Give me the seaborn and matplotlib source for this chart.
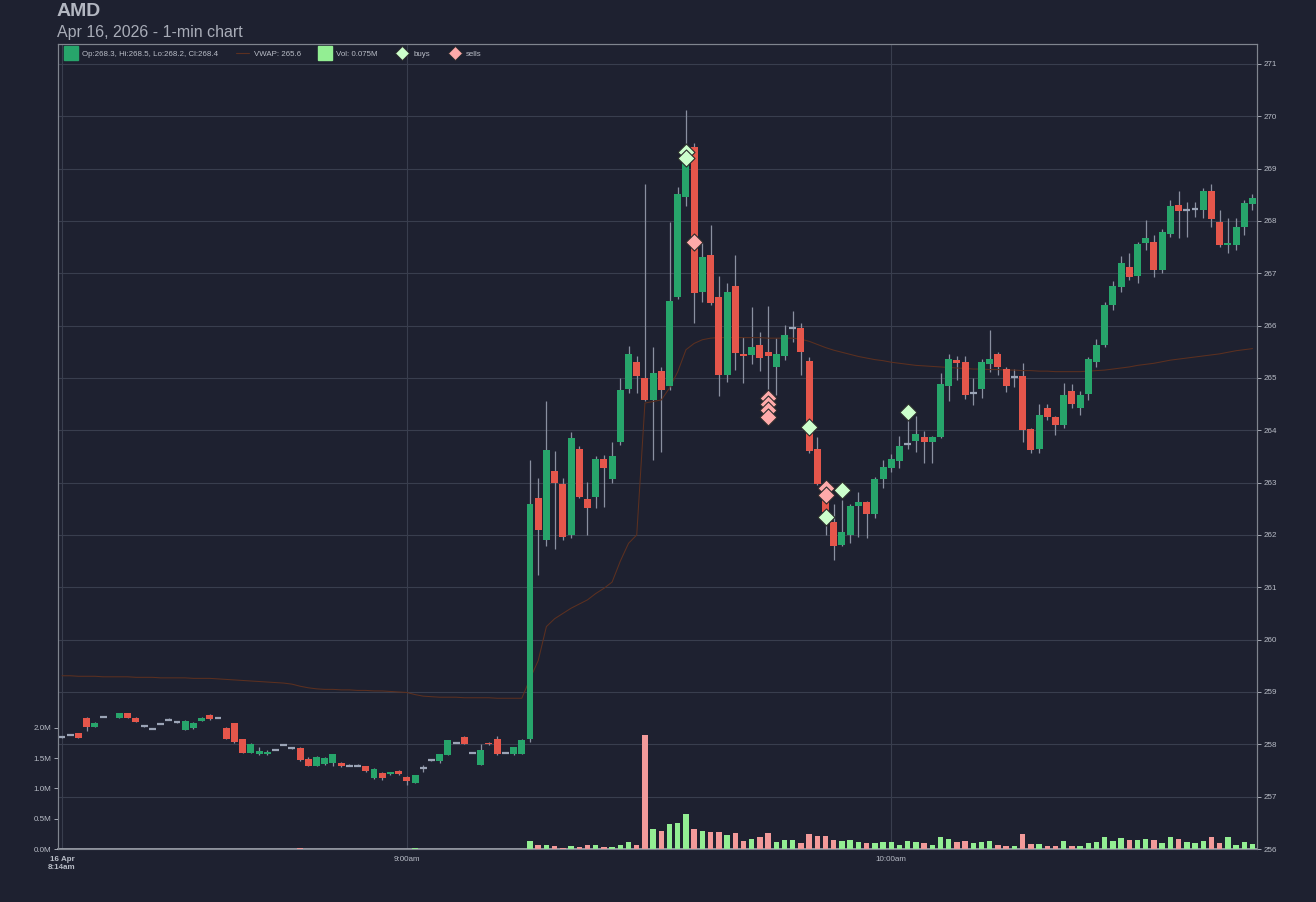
import numpy as np
import pandas as pd
import matplotlib
matplotlib.use('Agg')
import matplotlib.pyplot as plt
import seaborn as sns
from matplotlib.lines import Line2D

nan = np.nan

# 1-min bars, one slot per bar (index 0 = 8:14am, 42 = 9:00am, 101 = 10:00am)
opens = [
    258.14, 258.18, 258.21, 258.51, 258.34, 258.53, nan, 258.51, 258.59, 258.51,
    258.35, 258.30, 258.39, 258.47, 258.42, 258.28, 258.31, 258.45, 258.56, 258.51,
    258.32, 258.40, 258.10, 257.84, 257.81, 257.81, 257.90, 257.99, 257.93, 257.93,
    257.71, 257.59, 257.62, 257.65, 257.65, 257.59, 257.59, 257.58, 257.35, 257.46,
    257.43, 257.49, 257.37, 257.27, 257.54, 257.70, 257.69, 257.80, 258.03, 258.14,
    257.84, 257.61, 258.03, 258.10, 257.84, 257.81, 257.82, 258.10, 262.70, 261.90,
    263.23, 262.97, 262.00, 263.65, 262.69, 262.73, 263.46, 263.07, 263.78, 264.78,
    265.31, 264.99, 264.58, 265.14, 264.85, 266.55, 268.46, 269.42, 266.65, 267.35,
    266.54, 265.06, 266.76, 265.45, 265.44, 265.62, 265.49, 265.21, 265.42, 265.95,
    265.95, 265.33, 263.65, 262.80, 262.25, 261.81, 262.00, 262.55, 262.63, 262.40,
    263.06, 263.27, 263.42, 263.73, 263.80, 263.88, 263.78, 263.88, 264.85, 265.35,
    265.31, 264.71, 264.78, 265.27, 265.46, 265.18, 265.01, 265.04, 264.02, 263.64,
    264.42, 264.26, 264.10, 264.75, 264.42, 264.70, 265.31, 265.63, 266.39, 266.74,
    267.12, 266.95, 267.58, 267.60, 267.06, 267.75, 268.31, 268.21, 268.22, 268.21,
    268.58, 267.97, 267.54, 267.54, 267.89, 268.33]
highs = [
    258.15, 258.19, 258.22, 258.52, 258.42, 258.54, nan, 258.60, 258.60, 258.52,
    258.36, 258.31, 258.40, 258.51, 258.43, 258.46, 258.42, 258.52, 258.57, 258.52,
    258.33, 258.41, 258.11, 258.02, 257.94, 257.90, 257.91, 258.00, 257.94, 257.94,
    257.75, 257.77, 257.75, 257.82, 257.66, 257.63, 257.63, 257.59, 257.54, 257.47,
    257.48, 257.50, 257.39, 257.42, 257.60, 257.71, 257.82, 258.09, 258.04, 258.15,
    257.85, 258.00, 258.04, 258.16, 257.85, 257.95, 258.10, 263.43, 263.08, 264.56,
    263.61, 263.09, 263.96, 263.70, 263.02, 263.50, 263.53, 263.78, 264.99, 265.61,
    265.42, 268.71, 265.60, 265.20, 267.97, 268.65, 270.12, 269.49, 267.60, 267.92,
    266.94, 266.81, 267.35, 265.79, 266.36, 265.88, 266.38, 265.76, 266.01, 266.27,
    266.04, 265.40, 263.88, 262.85, 262.60, 262.67, 262.60, 262.83, 262.65, 263.10,
    263.44, 263.55, 263.89, 264.20, 264.27, 263.99, 263.90, 265.09, 265.45, 265.42,
    265.41, 264.99, 265.37, 265.92, 265.50, 265.20, 265.17, 265.28, 264.05, 264.51,
    264.50, 264.28, 264.91, 264.89, 264.75, 265.40, 265.74, 266.46, 266.85, 267.33,
    267.38, 267.60, 268.02, 267.73, 267.85, 268.39, 268.58, 268.37, 268.37, 268.62,
    268.71, 268.21, 268.05, 268.05, 268.40, 268.52]
lows = [
    258.13, 258.17, 258.12, 258.26, 258.33, 258.52, nan, 258.50, 258.50, 258.42,
    258.34, 258.29, 258.38, 258.46, 258.41, 258.27, 258.30, 258.44, 258.47, 258.50,
    258.10, 258.02, 257.83, 257.83, 257.80, 257.80, 257.89, 257.98, 257.92, 257.69,
    257.58, 257.58, 257.61, 257.59, 257.57, 257.58, 257.58, 257.48, 257.34, 257.32,
    257.42, 257.42, 257.22, 257.26, 257.47, 257.69, 257.65, 257.79, 258.02, 258.00,
    257.83, 257.60, 257.99, 257.80, 257.83, 257.80, 257.81, 258.05, 261.24, 261.78,
    261.74, 261.90, 261.95, 262.70, 262.00, 262.51, 262.54, 263.00, 263.72, 264.71,
    264.71, 264.55, 263.44, 263.59, 264.77, 266.50, 268.29, 266.04, 266.46, 266.40,
    264.66, 264.93, 265.15, 264.90, 265.27, 265.13, 264.77, 264.68, 265.34, 265.69,
    265.06, 263.56, 262.95, 262.00, 261.52, 261.78, 261.84, 261.97, 261.95, 262.32,
    262.89, 263.20, 263.27, 263.65, 263.59, 263.37, 263.38, 263.85, 264.56, 264.96,
    264.59, 264.48, 264.61, 265.12, 265.06, 264.74, 264.82, 263.78, 263.57, 263.57,
    264.20, 263.91, 264.05, 264.42, 264.29, 264.58, 265.21, 265.60, 266.30, 266.65,
    266.87, 266.81, 267.45, 266.92, 267.01, 267.70, 267.67, 267.70, 268.08, 268.05,
    267.88, 267.50, 267.38, 267.45, 267.73, 268.21]
closes = [
    258.14, 258.18, 258.13, 258.34, 258.41, 258.53, nan, 258.59, 258.51, 258.43,
    258.35, 258.30, 258.39, 258.47, 258.42, 258.45, 258.41, 258.51, 258.48, 258.51,
    258.11, 258.05, 257.84, 258.01, 257.88, 257.86, 257.90, 257.99, 257.93, 257.70,
    257.59, 257.76, 257.74, 257.81, 257.58, 257.59, 257.59, 257.49, 257.53, 257.35,
    257.47, 257.43, 257.30, 257.41, 257.54, 257.70, 257.81, 258.08, 258.03, 258.01,
    257.84, 257.89, 258.00, 257.81, 257.84, 257.94, 258.09, 262.59, 262.09, 263.62,
    263.00, 261.97, 263.86, 262.73, 262.51, 263.46, 263.27, 263.51, 264.77, 265.46,
    265.04, 264.58, 265.09, 264.77, 266.47, 268.51, 269.39, 266.63, 267.31, 266.43,
    265.06, 266.65, 265.48, 265.42, 265.60, 265.39, 265.41, 265.45, 265.82, 265.95,
    265.50, 263.61, 262.97, 262.44, 261.78, 262.05, 262.55, 262.63, 262.40, 263.06,
    263.30, 263.46, 263.70, 263.73, 263.93, 263.78, 263.88, 264.89, 265.37, 265.29,
    264.68, 264.71, 265.31, 265.37, 265.21, 264.85, 265.01, 264.00, 263.62, 264.29,
    264.25, 264.10, 264.68, 264.51, 264.68, 265.36, 265.63, 266.39, 266.76, 267.20,
    266.92, 267.55, 267.67, 267.06, 267.79, 268.29, 268.18, 268.21, 268.22, 268.58,
    268.03, 267.54, 267.58, 267.89, 268.34, 268.43]
# volume in millions
volumes = [
    0.004, 0.004, 0.004, 0.004, 0.004, 0.004, nan, 0.004, 0.004, 0.004,
    0.004, 0.004, 0.004, 0.004, 0.004, 0.004, 0.004, 0.004, 0.004, 0.004,
    0.004, 0.004, 0.004, 0.004, 0.004, 0.004, 0.004, 0.004, 0.004, 0.020,
    0.004, 0.004, 0.004, 0.004, 0.004, 0.004, 0.004, 0.004, 0.004, 0.004,
    0.004, 0.004, 0.004, 0.020, 0.004, 0.004, 0.004, 0.004, 0.004, 0.004,
    0.004, 0.004, 0.004, 0.004, 0.004, 0.004, 0.004, 0.132, 0.066, 0.066,
    0.044, 0.016, 0.050, 0.033, 0.060, 0.060, 0.033, 0.033, 0.072, 0.121,
    0.072, 1.884, 0.336, 0.292, 0.413, 0.435, 0.573, 0.336, 0.298, 0.275,
    0.275, 0.231, 0.264, 0.132, 0.165, 0.204, 0.264, 0.121, 0.154, 0.143,
    0.094, 0.242, 0.215, 0.215, 0.143, 0.132, 0.143, 0.121, 0.094, 0.094,
    0.115, 0.108, 0.066, 0.137, 0.115, 0.093, 0.066, 0.204, 0.165, 0.121,
    0.132, 0.093, 0.110, 0.132, 0.066, 0.055, 0.055, 0.242, 0.088, 0.088,
    0.055, 0.055, 0.137, 0.055, 0.055, 0.093, 0.121, 0.193, 0.132, 0.176,
    0.148, 0.148, 0.165, 0.148, 0.093, 0.204, 0.165, 0.115, 0.093, 0.137,
    0.193, 0.093, 0.193, 0.066, 0.121, 0.075]
vwap = [
    259.31, 259.31, 259.30, 259.30, 259.30, 259.29, 259.29, 259.29, 259.29, 259.28,
    259.28, 259.28, 259.27, 259.27, 259.27, 259.27, 259.26, 259.26, 259.26, 259.25,
    259.24, 259.23, 259.22, 259.21, 259.20, 259.19, 259.18, 259.17, 259.15, 259.11,
    259.08, 259.06, 259.05, 259.05, 259.04, 259.04, 259.03, 259.03, 259.02, 259.02,
    259.01, 259.00, 258.99, 258.95, 258.92, 258.91, 258.90, 258.90, 258.90, 258.89,
    258.89, 258.89, 258.89, 258.88, 258.88, 258.88, 258.88, 259.25, 259.60, 260.25,
    260.40, 260.50, 260.60, 260.68, 260.76, 260.88, 260.98, 261.10, 261.50, 261.84,
    262.00, 264.52, 264.55, 264.58, 264.81, 265.12, 265.54, 265.66, 265.73, 265.76,
    265.77, 265.77, 265.77, 265.77, 265.77, 265.77, 265.76, 265.76, 265.76, 265.76,
    265.74, 265.70, 265.64, 265.58, 265.53, 265.49, 265.45, 265.41, 265.38, 265.35,
    265.33, 265.30, 265.28, 265.26, 265.24, 265.23, 265.22, 265.21, 265.20, 265.19,
    265.18, 265.17, 265.17, 265.16, 265.16, 265.15, 265.15, 265.14, 265.14, 265.13,
    265.13, 265.12, 265.12, 265.12, 265.12, 265.13, 265.14, 265.15, 265.17, 265.19,
    265.21, 265.24, 265.26, 265.28, 265.31, 265.34, 265.36, 265.38, 265.40, 265.42,
    265.44, 265.46, 265.49, 265.52, 265.54, 265.56]

buy_bars = [76, 76, 91, 93, 95, 103]
buy_prices = [269.32, 269.20, 264.07, 262.35, 262.86, 264.34]
sell_bars = [77, 86, 86, 86, 86, 93, 93]
sell_prices = [267.60, 264.62, 264.50, 264.39, 264.26, 262.89, 262.76]

tick_bars = [0, 42, 101]
tick_labels = ['16 Apr\n8:14am', '9:00am', '10:00am']
price_ticks = list(range(256, 272))
vol_ticks = [0.0, 0.5, 1.0, 1.5, 2.0]

BG = '#1e2130'
GRID = '#393e4e'
SPINE = '#80858f'
TXT = '#b9bdc7'
UP = '#27a56b'
DOWN = '#e5564b'
DOJI = '#9ba4b6'
WICK = '#8a90a0'
VOL_UP = '#93ee93'
VOL_DOWN = '#f29a9a'
VWAP_C = '#5c3020'
BUY = '#ccffcc'
SELL = '#ffaaaa'

sns.set_theme(style='dark', rc={'axes.facecolor': BG, 'figure.facecolor': BG})
plt.rcParams['font.family'] = ['Liberation Sans', 'DejaVu Sans']

df = pd.DataFrame({'bar': np.arange(len(opens)), 'open': opens, 'high': highs,
                   'low': lows, 'close': closes, 'volume': volumes, 'vwap': vwap})
diff = df['close'] - df['open']
df['move'] = np.where(diff > 0.015, 'up', np.where(diff < -0.015, 'down', 'flat'))
bars = df.dropna(subset=['open'])

fig = plt.figure(figsize=(13.16, 9.02), dpi=100, facecolor=BG)
ax = fig.add_axes([58 / 1316, 53 / 902, 1199 / 1316, 805 / 902])
ax.set_facecolor(BG)
axv = ax.twinx()
ax.yaxis.tick_right()
axv.yaxis.tick_left()

# candles
ax.vlines(bars['bar'], bars['low'], bars['high'], color=WICK, lw=0.9, zorder=2)
body = bars[bars['move'] != 'flat']
ax.bar(body['bar'], (body['close'] - body['open']).abs(),
       bottom=body[['open', 'close']].min(axis=1), width=0.85,
       color=body['move'].map({'up': UP, 'down': DOWN}), linewidth=0, zorder=3)
flat = bars[bars['move'] == 'flat']
ax.hlines(flat['close'], flat['bar'] - 0.42, flat['bar'] + 0.42, color=DOJI, lw=1.6, zorder=3)

sns.lineplot(data=df, x='bar', y='vwap', ax=ax, color=VWAP_C, lw=0.75, zorder=2.5)

sns.scatterplot(x=buy_bars, y=buy_prices, ax=ax, marker='D', s=75, color=BUY,
                edgecolor='#2b2b2b', linewidth=0.8, zorder=5, legend=False)
sns.scatterplot(x=sell_bars, y=sell_prices, ax=ax, marker='D', s=75, color=SELL,
                edgecolor='#2b2b2b', linewidth=0.8, zorder=5, legend=False)

# volume
vcol = bars['move'].map({'up': VOL_UP, 'flat': VOL_UP, 'down': VOL_DOWN})
axv.bar(bars['bar'], bars['volume'], width=0.66, color=vcol, linewidth=0, zorder=2)

ax.set_xlim(-0.49, 145.55)
ax.set_ylim(256, 271.38)
axv.set_ylim(0, 13.3)

ax.set_yticks(price_ticks)
ax.set_yticklabels([str(p) for p in price_ticks])
axv.set_yticks(vol_ticks)
axv.set_yticklabels([f'{v:.1f}M' for v in vol_ticks])
ax.set_xticks(tick_bars)
ax.set_xticklabels(tick_labels)
ax.get_xticklabels()[0].set_fontweight('bold')

ax.set_xlabel('')
ax.set_ylabel('')
axv.set_ylabel('')

ax.grid(True, color=GRID, lw=0.8)
axv.grid(False)
ax.set_axisbelow(True)

for a in (ax, axv):
    a.tick_params(colors=TXT, labelsize=5.8, length=3, width=0.6, pad=2)
    for s in a.spines.values():
        s.set_color(SPINE)
        s.set_linewidth(0.8)
ax.tick_params(axis='x', colors=TXT, labelsize=5.8, pad=2)
ax.spines['bottom'].set_color('#a8acb5')
ax.spines['bottom'].set_linewidth(1.2)

last = df.iloc[-1]
handles = [
    Line2D([], [], ls='none', marker='s', markersize=10, markerfacecolor=UP, markeredgecolor=UP,
           label=f"Op:{last['open']:.1f}, Hi:{last['high']:.1f}, Lo:{last['low']:.1f}, Cl:{last['close']:.1f}"),
    Line2D([], [], color=VWAP_C, lw=0.8, label=f"VWAP: {last['vwap']:.1f}"),
    Line2D([], [], ls='none', marker='s', markersize=10, markerfacecolor=VOL_UP, markeredgecolor=VOL_UP,
           label=f"Vol: {last['volume']:.3f}M"),
    Line2D([], [], ls='none', marker='D', markersize=7.5, markerfacecolor=BUY, markeredgecolor='#2b2b2b',
           markeredgewidth=0.6, label='buys'),
    Line2D([], [], ls='none', marker='D', markersize=7.5, markerfacecolor=SELL, markeredgecolor='#2b2b2b',
           markeredgewidth=0.6, label='sells'),
]
axv.legend(handles=handles, loc='center left', bbox_to_anchor=(0.002, 1 - 10 / 805), ncol=5,
           frameon=False, fontsize=5.7, labelcolor=TXT, handlelength=1.6,
           handletextpad=0.6, columnspacing=2.3, borderpad=0)

fig.text(57 / 1316, 1 - 11 / 902, 'AMD', fontsize=14, fontweight='bold', color='#b3b7c1',
         ha='left', va='center')
fig.text(57 / 1316, 1 - 33 / 902, 'Apr 16, 2026 - 1-min chart', fontsize=11.5, color='#a9adb8',
         ha='left', va='center')

fig.savefig('out.png', dpi=100, facecolor=BG)
